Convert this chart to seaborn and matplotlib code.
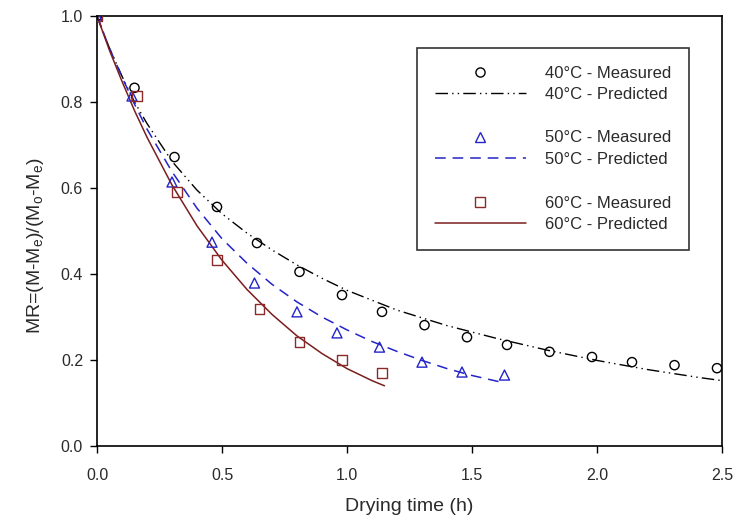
import numpy as np
import pandas as pd
import matplotlib
matplotlib.use("Agg")
import matplotlib.pyplot as plt
from matplotlib.lines import Line2D
import seaborn as sns

# ---- data ----
t40_meas = [0.0, 0.15, 0.31, 0.48, 0.64, 0.81, 0.98, 1.14, 1.31, 1.48, 1.64, 1.81, 1.98, 2.14, 2.31, 2.48]
mr40_meas = [1.0, 0.833, 0.672, 0.556, 0.472, 0.405, 0.351, 0.312, 0.281, 0.253, 0.235, 0.219, 0.207, 0.195, 0.188, 0.181]

t50_meas = [0.0, 0.14, 0.30, 0.46, 0.63, 0.80, 0.96, 1.13, 1.30, 1.46, 1.63]
mr50_meas = [1.0, 0.814, 0.614, 0.474, 0.379, 0.312, 0.263, 0.230, 0.195, 0.172, 0.165]

t60_meas = [0.0, 0.16, 0.32, 0.48, 0.65, 0.81, 0.98, 1.14]
mr60_meas = [1.0, 0.814, 0.591, 0.433, 0.319, 0.242, 0.200, 0.170]

t40_pred = [0.0, 0.05, 0.1, 0.15, 0.2, 0.3, 0.4, 0.5, 0.6, 0.7, 0.8, 0.9, 1.0, 1.2, 1.4, 1.6, 1.8, 2.0, 2.2, 2.4, 2.5]
mr40_pred = [1.0, 0.925, 0.86, 0.80, 0.75, 0.662, 0.595, 0.54, 0.495, 0.456, 0.421, 0.39, 0.362, 0.316, 0.28, 0.25, 0.223, 0.199, 0.178, 0.16, 0.152]

t50_pred = [0.0, 0.05, 0.1, 0.15, 0.2, 0.3, 0.4, 0.5, 0.6, 0.7, 0.8, 0.9, 1.0, 1.1, 1.2, 1.3, 1.4, 1.5, 1.62]
mr50_pred = [1.0, 0.925, 0.858, 0.795, 0.737, 0.638, 0.553, 0.482, 0.425, 0.376, 0.335, 0.300, 0.270, 0.243, 0.220, 0.199, 0.180, 0.164, 0.148]

t60_pred = [0.0, 0.05, 0.1, 0.15, 0.2, 0.3, 0.4, 0.5, 0.6, 0.7, 0.8, 0.9, 1.0, 1.1, 1.15]
mr60_pred = [1.0, 0.92, 0.848, 0.78, 0.718, 0.607, 0.512, 0.432, 0.364, 0.306, 0.256, 0.215, 0.180, 0.152, 0.140]

labels = ["40°C - Measured", "40°C - Predicted",
          "50°C - Measured", "50°C - Predicted",
          "60°C - Measured", "60°C - Predicted"]

x_ticks = [0.0, 0.5, 1.0, 1.5, 2.0, 2.5]
y_ticks = [0.0, 0.2, 0.4, 0.6, 0.8, 1.0]

# ---- style ----
sns.set_theme(style="ticks")
plt.rcParams['font.family'] = ['Liberation Sans', 'DejaVu Sans']
plt.rcParams['mathtext.fontset'] = 'custom'
plt.rcParams['mathtext.rm'] = 'Liberation Sans'
plt.rcParams['mathtext.it'] = 'Liberation Sans'
plt.rcParams['mathtext.default'] = 'regular'

TXT = '#2a2a2a'
C40 = 'black'
C50 = '#2424c8'
C60 = '#8c2a2a'
C60L = '#7a1e1e'

fig = plt.figure(figsize=(7.37, 5.25), dpi=100)
ax = fig.add_axes([97/737, 1 - 446/525, 625/737, 430/525])

dd = (0, (9, 3, 1, 3, 1, 3))
dash = (0, (7, 4.5))

# predicted lines
sns.lineplot(x=t40_pred, y=mr40_pred, ax=ax, color=C40, linewidth=1.0, linestyle=dd, sort=False)
sns.lineplot(x=t50_pred, y=mr50_pred, ax=ax, color=C50, linewidth=1.1, linestyle=dash, sort=False)
sns.lineplot(x=t60_pred, y=mr60_pred, ax=ax, color=C60L, linewidth=1.1, sort=False)

# measured points
sns.scatterplot(x=t40_meas, y=mr40_meas, ax=ax, marker='o', s=44, facecolor='none',
                edgecolor=C40, linewidth=1.0, zorder=3)
sns.scatterplot(x=t50_meas, y=mr50_meas, ax=ax, marker='^', s=52, facecolor='none',
                edgecolor=C50, linewidth=1.0, zorder=3)
sns.scatterplot(x=t60_meas, y=mr60_meas, ax=ax, marker='s', s=48, facecolor='none',
                edgecolor=C60, linewidth=1.0, zorder=3)

ax.set_xlim(0, 2.5)
ax.set_ylim(0, 1.0)
ax.set_xticks(x_ticks)
ax.set_yticks(y_ticks)
ax.set_xticklabels([f"{v:.1f}" for v in x_ticks])
ax.set_yticklabels([f"{v:.1f}" for v in y_ticks])
ax.tick_params(axis='both', which='both', direction='out', length=5, width=1.0,
               colors='black', labelcolor=TXT, labelsize=11.5, pad=5,
               top=False, right=False)
ax.tick_params(axis='x', pad=10.5)
for sp in ax.spines.values():
    sp.set_visible(True)
    sp.set_color('black')
    sp.set_linewidth(1.2)

ax.set_xlabel("Drying time (h)", fontsize=14, color=TXT, labelpad=11)
ax.set_ylabel("MR=(M-M$_e$)/(M$_o$-M$_e$)", fontsize=14, color=TXT)
ax.yaxis.set_label_coords(-0.0816, 0.465)

# legend
blank = Line2D([], [], linestyle='none', marker=None)
handles = [
    Line2D([], [], linestyle='none', marker='o', markersize=6.6, markerfacecolor='none',
           markeredgecolor=C40, markeredgewidth=1.0),
    Line2D([], [], color=C40, linewidth=1.0, linestyle=dd),
    blank,
    Line2D([], [], linestyle='none', marker='^', markersize=7.2, markerfacecolor='none',
           markeredgecolor=C50, markeredgewidth=1.0),
    Line2D([], [], color=C50, linewidth=1.1, linestyle=dash),
    blank,
    Line2D([], [], linestyle='none', marker='s', markersize=6.9, markerfacecolor='none',
           markeredgecolor=C60, markeredgewidth=1.0),
    Line2D([], [], color=C60L, linewidth=1.1),
]
leg_labels = [labels[0], labels[1], ' ', labels[2], labels[3], ' ', labels[4], labels[5]]
leg = ax.legend(handles, leg_labels, loc='upper left',
                bbox_to_anchor=((417 - 97) / 625, (446 - 48) / 430),
                frameon=True, fancybox=False, fontsize=12, handlelength=5.5,
                handletextpad=1.15, borderpad=1.05, labelspacing=0.4,
                borderaxespad=0)
leg.get_frame().set_edgecolor('black')
leg.get_frame().set_linewidth(1.2)
for txt in leg.get_texts():
    txt.set_color(TXT)

fig.savefig("out.png", dpi=100)
